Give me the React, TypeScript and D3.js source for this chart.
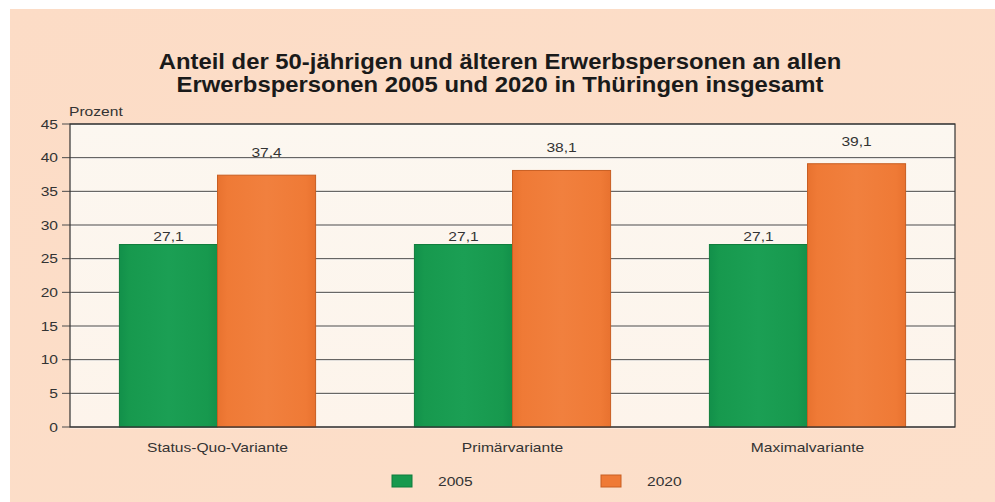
import React from "react";
import * as d3 from "d3";

const categories = ["Status-Quo-Variante", "Primärvariante", "Maximalvariante"];
const seriesNames = ["2005", "2020"];
const values2005 = [27.1, 27.1, 27.1];
const values2020 = [37.4, 38.1, 39.1];
const yTicks = [0, 5, 10, 15, 20, 25, 30, 35, 40, 45];
const titleLines = [
  "Anteil der 50-jährigen und älteren Erwerbspersonen an allen",
  "Erwerbspersonen 2005 und 2020 in Thüringen insgesamt",
];
const yLabel = "Prozent";

const W = 995;
const H = 502;
const colors = ["#17994e", "#ef7a36"];
const edgeColors = ["#12904a", "#e8722f"];
const centerColors = ["#1b9f54", "#f1803e"];
const strokes = ["#0f7d3c", "#c85e22"];
const font = "'Liberation Sans', Arial, sans-serif";

type TProps = {
  x: number;
  y: number;
  sx?: number;
  size?: number;
  anchor?: "start" | "middle" | "end";
  weight?: string;
  fill?: string;
  dy?: string;
  children: React.ReactNode;
};

function SText({ x, y, sx = 1.2, size = 13, anchor = "start", weight = "normal", fill = "#333", dy, children }: TProps) {
  return (
    <text
      transform={`translate(${x},${y}) scale(${sx},1)`}
      textAnchor={anchor}
      fontFamily={font}
      fontSize={size}
      fontWeight={weight}
      fill={fill}
      dy={dy}
    >
      {children}
    </text>
  );
}

export default function App() {
  const left = 70, right = 955, top = 124, bottom = 427;
  const x = d3.scaleBand<string>().domain(categories).range([left, right]).paddingInner(0.335).paddingOuter(0.1675);
  const xs = d3.scaleBand<string>().domain(seriesNames).range([0, x.bandwidth()]);
  const y = d3.scaleLinear().domain([0, 45]).range([bottom, top]);
  const series = [values2005, values2020];
  const labelOffsets = [4, 18];
  const fmt = (v: number) => v.toFixed(1).replace(".", ",");

  return (
    <div style={{ position: "fixed", left: 0, top: 0, width: W, height: H }}>
      <svg width={W} height={H} style={{ display: "block" }}>
        <defs>
          <linearGradient id="bg" x1="0" y1="0" x2="1" y2="1">
            <stop offset="0" stopColor="#fcdcc6" />
            <stop offset="1" stopColor="#fcdfca" />
          </linearGradient>
          <linearGradient id="plotbg" x1="0" y1="0" x2="0" y2="1">
            <stop offset="0" stopColor="#fcf7f0" />
            <stop offset="1" stopColor="#fdf4eb" />
          </linearGradient>
          {seriesNames.map((s, i) => (
            <linearGradient key={s} id={`bar${i}`} x1="0" y1="0" x2="1" y2="0">
              <stop offset="0" stopColor={edgeColors[i]} />
              <stop offset="0.1" stopColor={colors[i]} />
              <stop offset="0.5" stopColor={centerColors[i]} />
              <stop offset="0.9" stopColor={colors[i]} />
              <stop offset="1" stopColor={edgeColors[i]} />
            </linearGradient>
          ))}
        </defs>
        <rect x={0} y={0} width={W} height={H} fill="#ffffff" />
        <rect x={10} y={9} width={W - 10} height={H - 9} fill="url(#bg)" />
        {/* title */}
        {titleLines.map((t, i) => (
          <SText key={i} x={500} y={69 + i * 23} sx={1.085} size={22} anchor="middle" weight="bold" fill="#1a1a1a">
            {t}
          </SText>
        ))}
        {/* plot area */}
        <rect x={left} y={top} width={right - left} height={bottom - top} fill="url(#plotbg)" />
        {/* grid */}
        {yTicks.map((t) => (
          <g key={t}>
            <line x1={left} x2={right} y1={y(t) + 1} y2={y(t) + 1} stroke="#ffffff" strokeOpacity={0.7} strokeWidth={1} />
            <line x1={left - 8} x2={right} y1={y(t)} y2={y(t)} stroke="#4a4a4a" strokeWidth={1} />
            <SText x={left - 12} y={y(t)} dy="0.35em" anchor="end">
              {t}
            </SText>
          </g>
        ))}
        <SText x={left - 1} y={116}>{yLabel}</SText>
        {/* bars */}
        {categories.map((c, ci) => (
          <g key={c}>
            {seriesNames.map((s, si) => {
              const v = series[si][ci];
              const bx = (x(c) as number) + (xs(s) as number);
              const by = y(v);
              return (
                <g key={s}>
                  <rect x={bx} y={by} width={xs.bandwidth()} height={bottom - by} fill={`url(#bar${si})`} stroke={strokes[si]} strokeWidth={1} />
                  <SText x={bx + xs.bandwidth() / 2} y={by - labelOffsets[si]} anchor="middle">
                    {fmt(v)}
                  </SText>
                </g>
              );
            })}
            <SText x={(x(c) as number) + x.bandwidth() / 2} y={452} anchor="middle">
              {c}
            </SText>
          </g>
        ))}
        {/* frame */}
        <rect x={left} y={top} width={right - left} height={bottom - top} fill="none" stroke="#333" strokeWidth={1.2} />
        {/* legend */}
        {seriesNames.map((s, i) => {
          const lx = 392 + i * 209;
          return (
            <g key={s}>
              <rect x={lx} y={475} width={20} height={12} fill={colors[i]} stroke={strokes[i]} strokeWidth={1} />
              <SText x={lx + 46} y={486}>{s}</SText>
            </g>
          );
        })}
      </svg>
    </div>
  );
}
